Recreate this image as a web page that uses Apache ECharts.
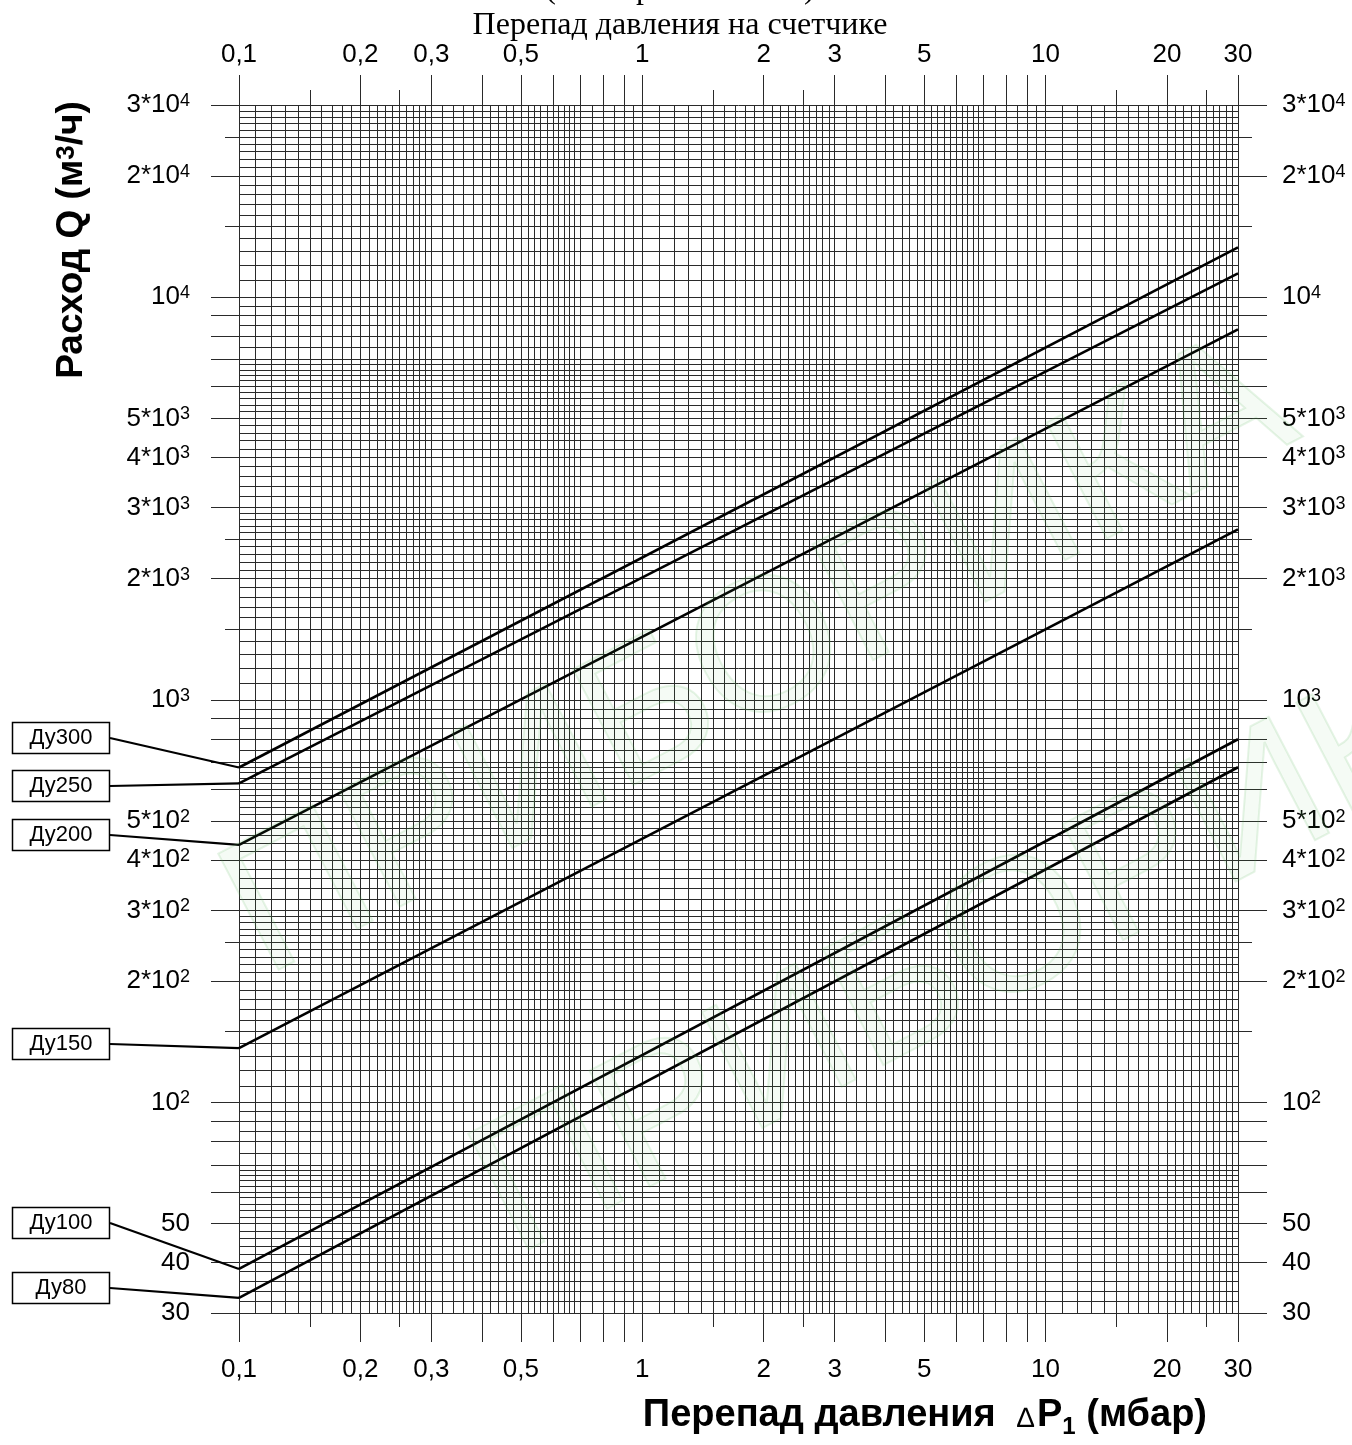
<!DOCTYPE html>
<html>
<head>
<meta charset="utf-8">
<title>Перепад давления на счетчике</title>
<script src="https://cdn.jsdelivr.net/npm/echarts@6/dist/echarts.min.js"></script>
<style>
html, body { margin: 0; padding: 0; background: #fff; }
#chart { width: 1352px; height: 1445px; }
</style>
</head>
<body>
<div id="chart"></div>
<script>
// счетчики
var sizes = ['Ду300', 'Ду250', 'Ду200', 'Ду150', 'Ду100', 'Ду80'];
// перепад давления, мбар (начало / конец линии)
var dpStart = [0.1, 0.1, 0.1, 0.1, 0.1, 0.1];
var dpEnd = [30, 30, 30, 30, 30, 30];
// расход Q, м3/ч
var qStart = [679, 620, 436, 136.4, 38.6, 32.7];
var qEnd = [13290, 11460, 8320, 2650, 798, 680];

// подписи и риски осей
var xLabels = [0.1, 0.2, 0.3, 0.5, 1, 2, 3, 5, 10, 20, 30];
var xLong = [0.1, 0.2, 0.3, 0.4, 0.5, 0.6, 0.7, 0.8, 0.9, 1, 2, 3, 4, 5, 6, 7, 8, 9, 10, 20, 30];
var xShort = [0.15, 0.25, 1.5, 2.5, 15, 25];
var yLabels = [30, 40, 50, 100, 200, 300, 400, 500, 1000, 2000, 3000, 4000, 5000, 10000, 20000, 30000];
var yLong = [30, 40, 50, 60, 70, 80, 90, 100, 200, 300, 400, 500, 600, 700, 800, 900,
    1000, 2000, 3000, 4000, 5000, 6000, 7000, 8000, 9000, 10000, 20000, 30000];
var yShort = [150, 250, 1500, 2500, 15000, 25000];

var FONT = '"Liberation Sans", Arial, sans-serif';
var SERIF = '"Liberation Serif", "Times New Roman", serif';
var LINE = '#2a2a2a';

window.addEventListener('load', function () {
    var chart = echarts.init(document.getElementById('chart'));

    // линии логарифмической бумаги
    function paperLines(decades, from, to) {
        var steps = [[1, 2, 0.1], [2, 3, 0.1], [3, 5, 0.2], [5, 7, 0.2], [7, 10, 0.5]];
        var out = [];
        decades.forEach(function (d) {
            steps.forEach(function (s) {
                var n = Math.round((s[1] - s[0]) / s[2]);
                for (var i = 0; i < n; i++) {
                    var v = +((s[0] + i * s[2]) * d).toPrecision(6);
                    if (v >= from && v <= to) out.push(v);
                }
            });
        });
        if (out.indexOf(to) < 0) out.push(to);
        return out;
    }

    function fmtX(v) {
        return String(+(+v).toPrecision(6)).replace('.', ',');
    }

    function fmtY(v) {
        v = +(+v).toPrecision(6);
        if (v < 100) return '{b|' + v + '}';
        var e = Math.floor(Math.log10(v) + 1e-9);
        var m = Math.round(v / Math.pow(10, e));
        return '{b|' + (m === 1 ? '' : m + '*') + '10}{s|' + e + '}';
    }

    var richY = {
        b: { fontSize: 26, fontFamily: FONT, color: '#000' },
        s: { fontSize: 18, fontFamily: FONT, color: '#000', verticalAlign: 'top' }
    };

    function xAxisCfg(pos, ticks, len, labels) {
        return {
            type: 'log', logBase: 10, min: 0.1, max: 30, position: pos,
            axisLine: { show: false },
            axisTick: { show: true, inside: false, length: len, customValues: ticks,
                lineStyle: { color: LINE, width: 1 } },
            axisLabel: labels ? { show: true, customValues: labels, formatter: fmtX,
                margin: pos === 'top' ? 37 : 44, fontSize: 26, fontFamily: FONT, color: '#000' } : { show: false },
            splitLine: { show: false }
        };
    }

    function yAxisCfg(pos, ticks, len, labels) {
        return {
            type: 'log', logBase: 10, min: 30, max: 30000, position: pos,
            axisLine: { show: false },
            axisTick: { show: true, inside: false, length: len, customValues: ticks,
                lineStyle: { color: LINE, width: 1 } },
            axisLabel: labels ? { show: true, customValues: labels, formatter: fmtY,
                margin: pos === 'left' ? 49 : 44, rich: richY } : { show: false },
            splitLine: { show: false }
        };
    }

    function paperAxis(min, max, values) {
        return {
            type: 'log', logBase: 10, min: min, max: max,
            axisLine: { show: false },
            axisTick: { show: false, customValues: values },
            axisLabel: { show: false },
            splitLine: { show: true, lineStyle: { color: LINE, width: 1 } }
        };
    }

    var series = sizes.map(function (name, i) {
        return {
            name: name,
            type: 'line',
            xAxisIndex: 0,
            yAxisIndex: 0,
            symbol: 'none',
            z: 5,
            lineStyle: { color: '#000', width: 2.6 },
            data: [[dpStart[i], qStart[i]], [dpEnd[i], qEnd[i]]]
        };
    });

    chart.setOption({
        animation: false,
        grid: { left: 239, right: 114, top: 105, bottom: 132, containLabel: false, outerBoundsMode: 'none' },
        xAxis: [
            xAxisCfg('bottom', xLong, 29, xLabels),
            xAxisCfg('bottom', xShort, 14, null),
            xAxisCfg('top', xLong, 30, xLabels),
            xAxisCfg('top', xShort, 15, null),
            paperAxis(0.1, 30, paperLines([0.1, 1, 10], 0.1, 30))
        ],
        yAxis: [
            yAxisCfg('left', yLong, 28, yLabels),
            yAxisCfg('left', yShort, 14, null),
            yAxisCfg('right', yLong, 29, yLabels),
            yAxisCfg('right', yShort, 14, null),
            paperAxis(30, 30000, paperLines([10, 100, 1000, 10000], 30, 30000))
        ],
        series: series
    });

    // выноски с обозначениями счетчиков
    var boxShift = [-29, 3, -10, -4, -46, -10];
    var graphics = [];
    sizes.forEach(function (name, i) {
        var p = chart.convertToPixel({ xAxisIndex: 0, yAxisIndex: 0 }, [dpStart[i], qStart[i]]);
        var cy = Math.round(p[1] + boxShift[i]);
        graphics.push({
            type: 'polyline', z: 10,
            shape: { points: [[110, cy], p] },
            style: { stroke: '#000', lineWidth: 2.2, fill: null }
        });
        graphics.push({
            type: 'rect', z: 10,
            shape: { x: 12.5, y: cy - 15.5, width: 97, height: 31 },
            style: { fill: '#fff', stroke: '#000', lineWidth: 1.5 }
        });
        graphics.push({
            type: 'text', z: 11, x: 61, y: cy,
            style: { text: name, fontSize: 22, fontFamily: FONT, fill: '#000', align: 'center', verticalAlign: 'middle' }
        });
    });

    // заголовки
    graphics.push({
        type: 'text', x: 680, y: 6, z: 12,
        style: { text: '(          р                   )', fontSize: 32, fontFamily: SERIF,
            fill: '#000', align: 'center', verticalAlign: 'bottom' }
    });
    graphics.push({
        type: 'text', x: 680, y: 26, z: 12,
        style: { text: 'Перепад давления на счетчике', fontSize: 32, fontFamily: SERIF,
            fill: '#000', align: 'center', verticalAlign: 'middle' }
    });
    graphics.push({
        type: 'text', x: 72, y: 240, rotation: Math.PI / 2, z: 12,
        style: {
            text: '{t|Расход Q (м}{s|3}{t|/ч)}', align: 'center', verticalAlign: 'middle',
            rich: {
                t: { fontSize: 37, fontWeight: 'bold', fontFamily: FONT, fill: '#000' },
                s: { fontSize: 26, fontWeight: 'bold', fontFamily: FONT, fill: '#000', verticalAlign: 'top' }
            }
        }
    });
    graphics.push({
        type: 'text', x: 1207, y: 1416, z: 12,
        style: {
            text: '{t|Перепад давления  }{d|\u2206}{t|P}{u|1}{t| (мбар)}', align: 'right', verticalAlign: 'middle',
            rich: {
                t: { fontSize: 38, fontWeight: 'bold', fontFamily: FONT, fill: '#000', verticalAlign: 'bottom' },
                d: { fontSize: 28, fontFamily: FONT, fill: '#000', verticalAlign: 'bottom', padding: [0, 3, 2, 0] },
                u: { fontSize: 24, fontWeight: 'bold', fontFamily: FONT, fill: '#000', verticalAlign: 'bottom', padding: [0, 0, -4, 0] }
            }
        }
    });

    // водяной знак
    [[760, 660], [1010, 940]].forEach(function (c) {
        graphics.push({
            type: 'text', x: c[0], y: c[1], rotation: 0.48, z: 20, silent: true,
            style: { text: 'ПРИБОРИКА', fontSize: 190, fontFamily: FONT, fill: 'rgba(90,180,90,0.06)',
                stroke: 'rgba(90,180,90,0.15)', lineWidth: 2, align: 'center', verticalAlign: 'middle' }
        });
    });

    chart.setOption({ graphic: graphics });
});
</script>
</body>
</html>
